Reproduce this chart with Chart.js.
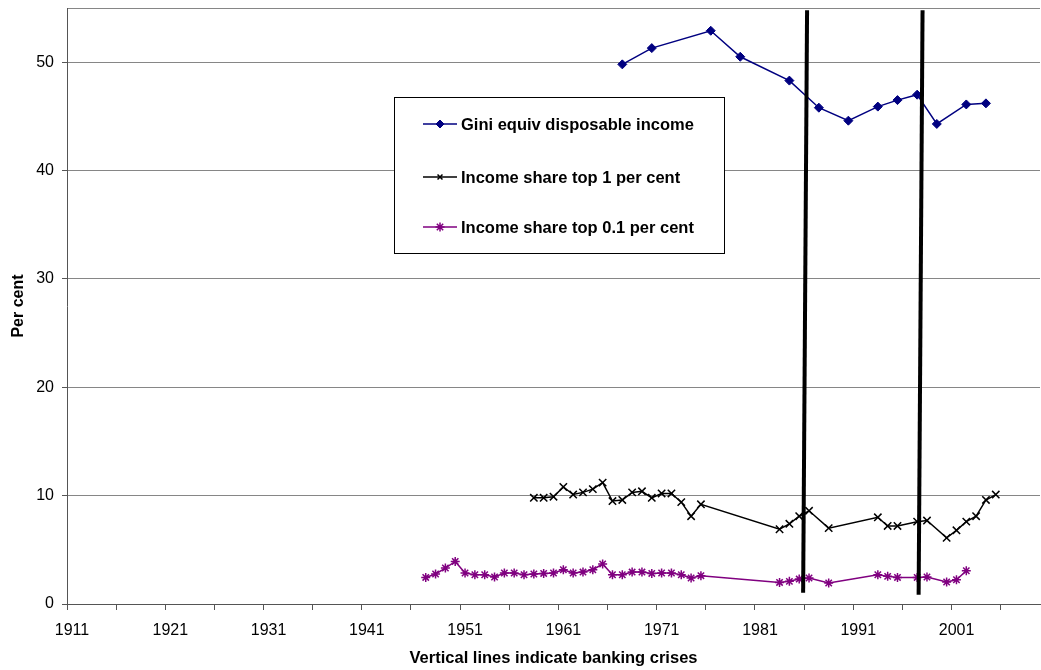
<!DOCTYPE html>
<html>
<head>
<meta charset="utf-8">
<script src="https://cdn.jsdelivr.net/npm/chart.js@4.4.1/dist/chart.umd.min.js"></script>
<style>
  html, body { margin: 0; padding: 0; background: #ffffff; }
  #wrap { width: 1041px; height: 670px; }
</style>
</head>
<body>
<div id="wrap"><canvas id="chart" width="1041" height="670"></canvas></div>
<script>
// Gini coefficient of equivalised disposable income
const giniYears  = [1967, 1970, 1976, 1979, 1984, 1987, 1990, 1993, 1995, 1997, 1999, 2002, 2004];
const giniValues = [49.8, 51.3, 52.9, 50.5, 48.3, 45.8, 44.6, 45.9, 46.5, 47.0, 44.3, 46.1, 46.2];

// Income share of the top 1 per cent
const top1Years  = [1958, 1959, 1960, 1961, 1962, 1963, 1964, 1965, 1966, 1967, 1968, 1969, 1970, 1971, 1972, 1973, 1974, 1975,
                    1983, 1984, 1985, 1986, 1988, 1993, 1994, 1995, 1997, 1998, 2000, 2001, 2002, 2003, 2004, 2005];
const top1Values = [9.8, 9.8, 9.9, 10.8, 10.1, 10.3, 10.6, 11.2, 9.5, 9.6, 10.3, 10.4, 9.8, 10.2, 10.2, 9.4, 8.1, 9.2,
                    6.9, 7.4, 8.1, 8.6, 7.0, 8.0, 7.2, 7.2, 7.6, 7.7, 6.1, 6.8, 7.6, 8.1, 9.6, 10.1];

// Income share of the top 0.1 per cent
const top01Years  = [1947, 1948, 1949, 1950, 1951, 1952, 1953, 1954, 1955, 1956, 1957, 1958, 1959, 1960, 1961,
                     1962, 1963, 1964, 1965, 1966, 1967, 1968, 1969, 1970, 1971, 1972, 1973, 1974, 1975,
                     1983, 1984, 1985, 1986, 1988, 1993, 1994, 1995, 1997, 1998, 2000, 2001, 2002];
const top01Values = [2.45, 2.77, 3.32, 3.93, 2.86, 2.70, 2.70, 2.49, 2.86, 2.86, 2.70, 2.77, 2.82, 2.86, 3.16,
                     2.86, 2.95, 3.16, 3.69, 2.70, 2.70, 2.95, 2.95, 2.82, 2.86, 2.86, 2.70, 2.40, 2.61,
                     1.99, 2.09, 2.30, 2.40, 1.94, 2.70, 2.55, 2.45, 2.45, 2.49, 2.03, 2.24, 3.07];

// Banking crises, drawn as hand-placed vertical strokes: [yearTop, valueTop, yearBottom, valueBottom]
const crisisStrokes = [
  [1985.8, 54.8, 1985.4, 1.04],
  [1997.55, 54.8, 1997.15, 0.86]
];

// Axis definitions
const firstYear = 1911;
const lastYear = 2009;
const xTickEvery = 5;
const xLabelYears = [1911, 1921, 1931, 1941, 1951, 1961, 1971, 1981, 1991, 2001];
const yTicks = [0, 10, 20, 30, 40, 50];
const yMax = 55;

const seriesNames = ['Gini equiv disposable income', 'Income share top 1 per cent', 'Income share top 0.1 per cent'];

const toPoints = (xs, ys) => xs.map((x, i) => ({ x: x, y: ys[i] }));

const FONT = "'Liberation Sans', Arial, sans-serif";
Chart.defaults.font.family = FONT;
Chart.defaults.color = '#000000';

const crisisDatasets = crisisStrokes.map(s => ({
  type: 'line',
  isCrisis: true,
  data: [{ x: s[0], y: s[1] }, { x: s[2], y: s[3] }],
  borderColor: '#000000',
  borderWidth: 4,
  borderCapStyle: 'butt',
  pointRadius: 0,
  fill: false
}));

const seriesDatasets = [
  {
    label: seriesNames[0],
    data: toPoints(giniYears, giniValues),
    borderColor: '#000080',
    backgroundColor: '#000080',
    borderWidth: 1.5,
    pointStyle: 'rectRot',
    pointRadius: 4.5,
    pointBorderWidth: 1,
    legendRadius: 4
  },
  {
    label: seriesNames[1],
    data: toPoints(top1Years, top1Values),
    borderColor: '#000000',
    backgroundColor: '#000000',
    borderWidth: 1.5,
    pointStyle: 'crossRot',
    pointRadius: 5.2,
    pointBorderWidth: 1.5,
    legendRadius: 3.5
  },
  {
    label: seriesNames[2],
    data: toPoints(top01Years, top01Values),
    borderColor: '#800080',
    backgroundColor: '#800080',
    borderWidth: 1.5,
    pointStyle: 'star',
    pointRadius: 4.5,
    pointBorderWidth: 1.5,
    legendRadius: 4.5
  }
];

// Boxed legend sitting inside the plot area
const boxLegend = {
  id: 'boxLegend',
  afterDatasetsDraw(chart) {
    const ctx = chart.ctx;
    const bx = 394.5, by = 97.5, bw = 330, bh = 156;
    const rows = [124, 177, 227];
    ctx.save();
    ctx.fillStyle = '#ffffff';
    ctx.fillRect(bx, by, bw, bh);
    ctx.strokeStyle = '#000000';
    ctx.lineWidth = 1;
    ctx.strokeRect(bx, by, bw, bh);
    const series = chart.data.datasets.filter(d => !d.isCrisis);
    series.forEach((ds, i) => {
      const y = rows[i];
      ctx.strokeStyle = ds.borderColor;
      ctx.fillStyle = ds.backgroundColor;
      ctx.lineWidth = 1.5;
      ctx.beginPath();
      ctx.moveTo(423, y);
      ctx.lineTo(457, y);
      ctx.stroke();
      ctx.lineWidth = ds.pointBorderWidth;
      Chart.helpers.drawPoint(ctx, { pointStyle: ds.pointStyle, radius: ds.legendRadius, rotation: 0, borderWidth: ds.pointBorderWidth }, 440, y);
      ctx.fillStyle = '#000000';
      ctx.font = "bold 16.5px " + FONT;
      ctx.textBaseline = 'middle';
      ctx.textAlign = 'left';
      ctx.fillText(ds.label, 461, y + 1);
    });
    ctx.restore();
  }
};

new Chart(document.getElementById('chart'), {
  type: 'line',
  data: { datasets: crisisDatasets.concat(seriesDatasets) },
  plugins: [boxLegend],
  options: {
    responsive: false,
    animation: false,
    devicePixelRatio: 1,
    layout: { autoPadding: false, padding: { top: 8, right: 1, left: 0, bottom: 0 } },
    plugins: { legend: { display: false }, tooltip: { enabled: false } },
    elements: { line: { tension: 0 } },
    scales: {
      x: {
        type: 'linear',
        min: firstYear - 0.5,
        max: lastYear + 0.5,
        afterBuildTicks(scale) {
          const t = [];
          for (let v = firstYear - 0.5; v <= lastYear + 0.5; v += xTickEvery) t.push({ value: v });
          scale.ticks = t;
        },
        afterFit(scale) {
          scale.height = 66;
          scale.paddingLeft = 0;
          scale.paddingRight = 0;
        },
        ticks: {
          autoSkip: false,
          maxRotation: 0,
          minRotation: 0,
          labelOffset: 5,
          padding: 11,
          font: { size: 16 },
          color: '#000000',
          callback: (v) => (xLabelYears.includes(v + 0.5) ? String(v + 0.5) : '')
        },
        grid: { drawOnChartArea: false, drawTicks: true, tickLength: 6, tickColor: '#555555', color: '#555555' },
        border: { display: true, color: '#555555', width: 1 },
        title: {
          display: true,
          text: 'Vertical lines indicate banking crises',
          font: { size: 16.5, weight: 'bold' },
          color: '#000000',
          padding: { top: 0, bottom: 2 }
        }
      },
      y: {
        type: 'linear',
        min: 0,
        max: yMax,
        afterBuildTicks(scale) {
          scale.ticks = yTicks.concat([yMax]).map(v => ({ value: v }));
        },
        afterFit(scale) {
          scale.width = 67;
          scale.paddingTop = 0;
          scale.paddingBottom = 0;
        },
        ticks: {
          padding: 8,
          font: { size: 16 },
          color: '#000000',
          callback: (v) => (yTicks.includes(v) ? String(v) : '')
        },
        grid: {
          color: '#868686',
          lineWidth: 1,
          tickLength: 5,
          tickColor: (c) => (c.tick && c.tick.value === yMax ? 'rgba(0,0,0,0)' : '#555555')
        },
        border: { display: true, color: '#555555', width: 1 },
        title: {
          display: true,
          text: 'Per cent',
          font: { size: 16, weight: 'bold' },
          color: '#000000',
          padding: { top: 8.5, bottom: 0 }
        }
      }
    }
  }
});
</script>
</body>
</html>
